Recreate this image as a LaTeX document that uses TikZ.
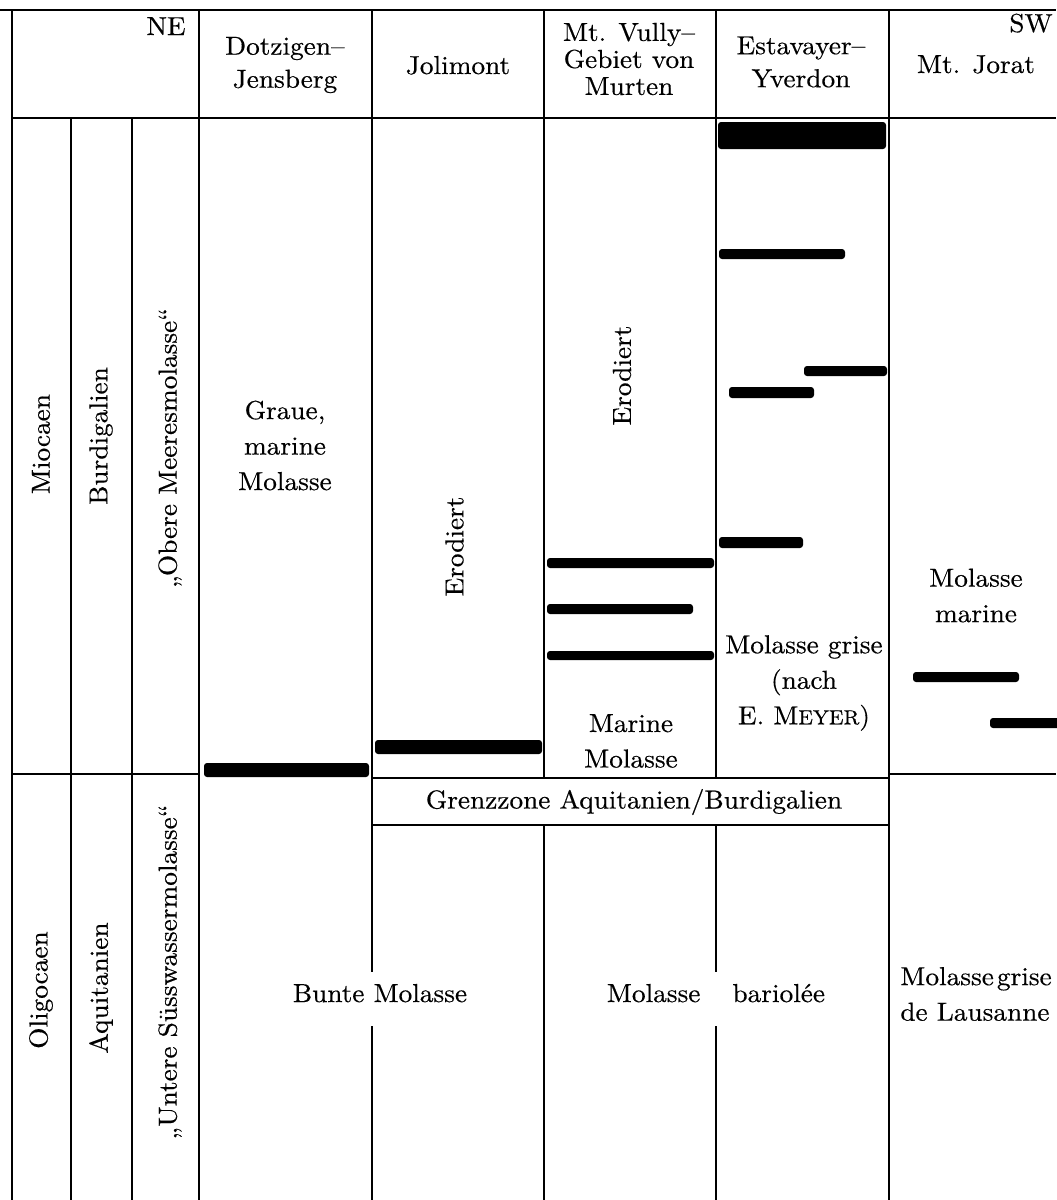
\documentclass[tikz,border=0pt]{standalone}
\usepackage{fontspec}
\setmainfont{lmroman10-regular}[Extension=.otf,FakeStretch=1.05,FakeBold=0.4]
\begin{document}
\begin{tikzpicture}[x=0.5pt,y=-0.5pt,
  rule/.style={line width=0.85pt},
  bar/.style={fill=black, rounded corners=1.5pt},
  lbl/.style={inner sep=0pt, font=\fontsize{13}{17.75}\selectfont, align=center},
  hdtwo/.style={lbl, font=\fontsize{13}{16.5}\selectfont},
  hdthree/.style={lbl, font=\fontsize{13}{13.5}\selectfont},
  vlbl/.style={lbl, rotate=90}]
\useasboundingbox (0,0) rectangle (1056,1200);
% grid
\draw[rule] (0,10) -- (1056,10);
\draw[rule] (12,118) -- (1056,118);
\draw[rule] (12,10) -- (12,1200);
\draw[rule] (71,118) -- (71,1200);
\draw[rule] (132,118) -- (132,1200);
\draw[rule] (199,10) -- (199,1200);
\draw[rule] (372,10) -- (372,972) (372,1026) -- (372,1200);
\draw[rule] (544,10) -- (544,778) (544,825) -- (544,1200);
\draw[rule] (716,10) -- (716,778) (716,825) -- (716,972) (716,1026) -- (716,1200);
\draw[rule] (889,10) -- (889,1200);
\draw[rule] (12,774) -- (199,774);
\draw[rule] (372,778) -- (889,778) (372,825) -- (889,825);
\draw[rule] (889,774) -- (1056,774);
% bars
\fill[bar] (204,763) rectangle (369,777);
\fill[bar] (375,740) rectangle (542,754);
\fill[bar] (547,558) rectangle (714,568);
\fill[bar] (547,604) rectangle (693,614);
\fill[bar] (547,651) rectangle (714,660);
\fill[bar] (718,122) rectangle (886,149);
\fill[bar] (719,249) rectangle (845,259);
\fill[bar] (804,366) rectangle (887,376);
\fill[bar] (729,387) rectangle (814,398);
\fill[bar] (719,537) rectangle (803,548);
\fill[bar] (913,672) rectangle (1019,682);
\fill[bar] (990,718) rectangle (1060,728);
% header
\node[lbl, anchor=base east] (ne) at (186,35) {NE};
\node[hdtwo] (dotz) at (285,65) {Dotzigen–\\Jensberg};
\node[lbl, anchor=base] (joli) at (458,74) {Jolimont};
\node[hdthree] (vully) at (629,59) {Mt. Vully–\\Gebiet von\\Murten};
\node[hdtwo] (estav) at (801,62) {Estavayer–\\Yverdon};
\node[lbl, anchor=base east] (sw) at (1053,32) {SW};
\node[lbl, anchor=base] (jorat) at (976,73) {Mt. Jorat};
% left columns
\node[vlbl] (mio) at (41,444) {Miocaen};
\node[vlbl] (burd) at (101,436) {Burdigalien};
\node[vlbl] (obere) at (170,448) {„Obere Meeresmolasse“};
\node[vlbl] (oligo) at (41,990) {Oligocaen};
\node[vlbl] (aquit) at (101,988) {Aquitanien};
\node[vlbl] (untere) at (170,972) {„Untere Süsswassermolasse“};
% body
\node[lbl] (graue) at (285,445.5) {Graue,\\marine\\Molasse};
\node[vlbl] (erod1) at (454.5,546.5) {Erodiert};
\node[vlbl] (erod2) at (622,375.5) {Erodiert};
\node[lbl] (marmol) at (631,741) {Marine\\Molasse};
\node[lbl] (grise) at (804,683) {Molasse grise\\(nach\\E. M{\fontsize{10.2}{10}\selectfont EYER})};
\node[lbl] (molmar) at (976,595.5) {Molasse\\marine};
\node[lbl] (grenz) at (634,802) {Grenzzone Aquitanien/Burdigalien};
\node[lbl, anchor=base] (bunte) at (380,1002) {Bunte Molasse};
\node[lbl, anchor=base] (bariolee) at (716,1002) {Molasse\hspace{16pt}bariolée};
\node[lbl, align=left, anchor=west] (lausanne) at (900,994) {Molasse\hspace{1.5pt}grise\\de Lausanne};
\end{tikzpicture}
\end{document}
